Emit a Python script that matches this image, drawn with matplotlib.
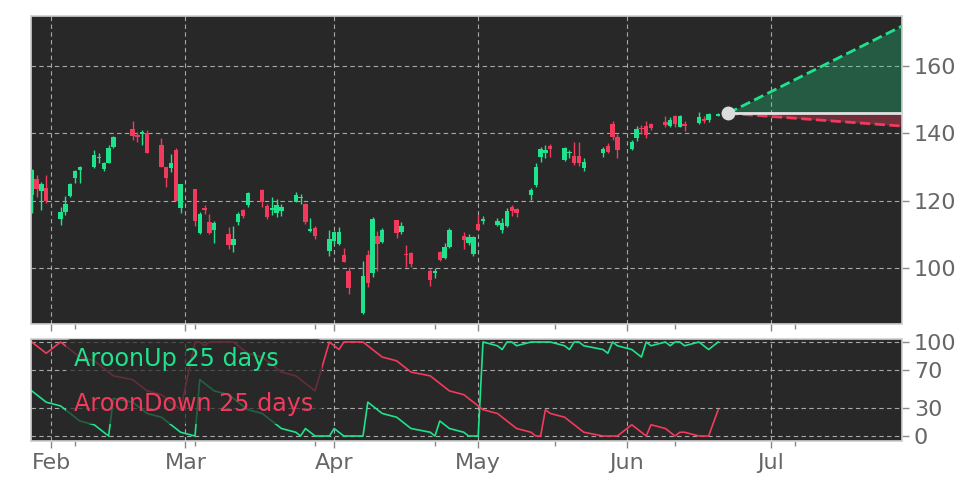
import matplotlib
matplotlib.use("Agg")
import matplotlib.pyplot as plt
import matplotlib.dates as mdates
import matplotlib.ticker as mticker
import numpy as np
import pandas as pd

# ---------------- data ----------------
dates = [
    "2025-01-28", "2025-01-29", "2025-01-30", "2025-01-31",
    "2025-02-03", "2025-02-04", "2025-02-05", "2025-02-06", "2025-02-07",
    "2025-02-10", "2025-02-11", "2025-02-12", "2025-02-13", "2025-02-14",
    "2025-02-18", "2025-02-19", "2025-02-20", "2025-02-21",
    "2025-02-24", "2025-02-25", "2025-02-26", "2025-02-27", "2025-02-28",
    "2025-03-03", "2025-03-04", "2025-03-05", "2025-03-06", "2025-03-07",
    "2025-03-10", "2025-03-11", "2025-03-12", "2025-03-13", "2025-03-14",
    "2025-03-17", "2025-03-18", "2025-03-19", "2025-03-20", "2025-03-21",
    "2025-03-24", "2025-03-25", "2025-03-26", "2025-03-27", "2025-03-28",
    "2025-03-31", "2025-04-01", "2025-04-02", "2025-04-03", "2025-04-04",
    "2025-04-07", "2025-04-08", "2025-04-09", "2025-04-10", "2025-04-11",
    "2025-04-14", "2025-04-15", "2025-04-16", "2025-04-17",
    "2025-04-21", "2025-04-22", "2025-04-23", "2025-04-24", "2025-04-25",
    "2025-04-28", "2025-04-29", "2025-04-30", "2025-05-01", "2025-05-02",
    "2025-05-05", "2025-05-06", "2025-05-07", "2025-05-08", "2025-05-09",
    "2025-05-12", "2025-05-13", "2025-05-14", "2025-05-15", "2025-05-16",
    "2025-05-19", "2025-05-20", "2025-05-21", "2025-05-22", "2025-05-23",
    "2025-05-27", "2025-05-28", "2025-05-29", "2025-05-30",
    "2025-06-02", "2025-06-03", "2025-06-04", "2025-06-05", "2025-06-06",
    "2025-06-09", "2025-06-10", "2025-06-11", "2025-06-12", "2025-06-13",
    "2025-06-16", "2025-06-17", "2025-06-18", "2025-06-20",
]

opens = [
    121.8, 126.5, 123.0, 123.9,
    114.7, 116.6, 121.3, 126.9, 129.2,
    129.9, 132.6, 129.5, 131.1, 136.1,
    141.3, 139.5, 139.7, 140.0,
    136.6, 130.1, 129.7, 135.1, 118.0,
    123.5, 110.4, 118.0, 113.8, 111.4,
    110.1, 106.8, 113.8, 117.2, 118.7,
    123.2, 118.5, 117.2, 116.5, 116.9,
    119.7, 120.7, 119.0, 111.0, 111.8,
    105.1, 108.1, 107.1, 103.9, 99.2,
    86.8, 104.0, 98.5, 109.4, 107.9,
    114.3, 110.7, 104.2, 104.5,
    99.0, 98.5, 104.7, 103.0, 106.4,
    109.6, 107.4, 104.3, 113.1, 114.1,
    112.7, 111.4, 112.6, 118.3, 117.5,
    121.7, 124.7, 132.9, 134.3, 136.3,
    132.1, 134.1, 133.3, 133.3, 129.6,
    134.1, 136.2, 142.7, 139.0,
    135.3, 138.6, 141.5, 142.2, 142.8,
    143.4, 142.2, 145.1, 142.0, 142.8,
    143.2, 144.4, 143.9, 145.2,
]

closes = [
    129.2, 123.5, 124.9, 120.0,
    116.8, 119.0, 125.0, 128.9, 130.1,
    133.6, 133.1, 131.3, 135.6, 139.0,
    139.3, 139.0, 140.3, 134.1,
    130.1, 126.7, 131.1, 120.0, 125.0,
    113.9, 116.2, 117.3, 110.4, 113.3,
    106.8, 108.8, 116.2, 115.5, 122.2,
    119.5, 115.2, 117.8, 118.7, 118.3,
    121.7, 121.2, 113.6, 111.6, 109.4,
    108.6, 110.6, 110.8, 101.7, 94.0,
    97.8, 95.5, 114.6, 107.2, 111.4,
    110.4, 112.4, 103.8, 101.3,
    96.6, 99.0, 102.5, 106.4, 111.4,
    108.4, 109.1, 109.2, 111.4, 114.6,
    113.9, 113.3, 117.1, 117.0, 116.3,
    123.2, 130.1, 135.4, 135.1, 135.3,
    135.7, 134.6, 131.1, 131.1, 131.6,
    135.5, 134.6, 139.0, 135.0,
    137.5, 141.3, 141.3, 139.6, 141.5,
    142.5, 144.1, 142.8, 145.1, 142.3,
    144.9, 143.7, 145.7, 145.9,
]

highs = [
    129.5, 127.7, 125.7, 127.7,
    118.3, 121.3, 125.2, 129.2, 130.4,
    135.1, 134.1, 131.6, 136.6, 139.3,
    143.6, 140.5, 141.0, 141.0,
    138.7, 130.1, 133.8, 135.6, 125.0,
    123.5, 116.8, 118.7, 116.0, 114.1,
    112.1, 112.6, 116.8, 117.7, 122.7,
    123.5, 119.0, 121.0, 120.5, 119.1,
    122.5, 122.0, 119.3, 115.0, 112.6,
    111.4, 111.1, 112.1, 105.9, 100.2,
    102.0, 105.3, 115.3, 110.9, 111.9,
    114.3, 113.6, 106.9, 104.7,
    99.7, 100.0, 105.0, 107.4, 111.9,
    110.6, 110.2, 109.4, 115.8, 115.5,
    114.9, 114.9, 117.8, 118.8, 117.8,
    123.7, 131.1, 136.1, 136.6, 136.8,
    136.0, 135.1, 137.5, 137.5, 132.6,
    136.0, 137.2, 143.8, 139.8,
    138.2, 142.2, 142.5, 143.8, 143.1,
    145.1, 144.9, 145.4, 145.4, 143.7,
    146.4, 145.1, 146.1, 146.0,
]

lows = [
    116.4, 121.2, 117.3, 119.3,
    112.9, 115.9, 121.0, 125.2, 125.2,
    129.7, 131.1, 128.9, 131.1, 135.6,
    138.0, 137.5, 136.6, 134.1,
    130.1, 124.2, 128.7, 119.8, 116.4,
    112.4, 110.0, 116.0, 110.1, 107.6,
    105.6, 104.9, 112.8, 115.0, 118.3,
    118.3, 114.7, 115.7, 115.3, 115.5,
    119.5, 119.0, 113.1, 110.8, 108.8,
    103.7, 107.1, 106.8, 101.7, 92.3,
    86.5, 94.3, 97.5, 99.0, 107.4,
    108.9, 110.2, 100.3, 100.3,
    94.8, 97.0, 102.0, 102.7, 105.9,
    105.6, 106.9, 103.7, 111.4, 113.1,
    112.4, 110.4, 112.2, 115.5, 115.1,
    120.1, 124.2, 131.6, 132.6, 133.0,
    131.9, 132.6, 130.6, 130.3, 128.9,
    132.9, 134.2, 138.0, 132.6,
    135.0, 137.8, 139.8, 138.8, 141.0,
    142.0, 141.8, 142.0, 141.8, 140.8,
    142.8, 143.2, 143.5, 145.1,
]

aroon_up = [
    48, 44, 40, 36,
    32, 28, 24, 20, 16,
    12, 8, 4, 0, 40,
    36, 32, 28, 24,
    20, 16, 12, 8, 4,
    0, 60, 56, 52, 48,
    44, 40, 36, 32, 28,
    24, 20, 16, 12, 8,
    4, 0, 8, 4, 0,
    0, 8, 4, 0, 0,
    0, 36, 32, 28, 24,
    20, 16, 12, 8,
    4, 0, 16, 12, 8,
    4, 0, 0, 0, 100,
    96, 92, 100, 100, 96,
    100, 100, 100, 100, 100,
    96, 92, 100, 100, 96,
    92, 88, 100, 96,
    92, 88, 84, 100, 96,
    100, 96, 100, 100, 96,
    100, 96, 92, 100,
]

aroon_down = [
    100, 96, 92, 88,
    100, 96, 92, 88, 84,
    80, 76, 72, 68, 64,
    60, 56, 52, 48,
    44, 40, 36, 32, 28,
    100, 100, 96, 100, 100,
    100, 100, 96, 92, 88,
    84, 80, 76, 72, 68,
    64, 60, 56, 52, 48,
    100, 96, 92, 100, 100,
    100, 96, 92, 88, 84,
    80, 76, 72, 68,
    64, 60, 56, 52, 48,
    44, 40, 36, 32, 28,
    24, 20, 16, 12, 8,
    4, 0, 0, 28, 24,
    20, 16, 12, 8, 4,
    0, 0, 0, 0,
    12, 8, 4, 0, 12,
    8, 4, 0, 4, 4,
    0, 0, 0, 28,
]

forecast_dates = ["2025-06-22 00:00", "2025-07-28 07:00"]
forecast_base = [146.0, 146.0]
forecast_high = [146.0, 171.9]
forecast_low = [146.0, 142.2]

x_range = ["2025-01-27 20:00", "2025-07-28 07:00"]
minor_tick_dates = ["2025-02-06", "2025-03-03", "2025-03-28", "2025-04-22",
                    "2025-05-17", "2025-06-11", "2025-07-06"]
price_ticks = [100, 120, 140, 160]
aroon_ticks = [0, 30, 70, 100]
legend_labels = ["AroonUp 25 days", "AroonDown 25 days"]

# ---------------- style ----------------
GREEN = "#1ee38c"
RED = "#f23a5c"
BG = "#282828"
GRID = "#a8a8a8"
TXT = "#666666"
SPINE = "#d0d0d0"

fig = plt.figure(figsize=(9.72, 4.86), dpi=100)
ax = fig.add_axes([31 / 972, 1 - 324 / 486, 871 / 972, 308 / 486])
ax2 = fig.add_axes([31 / 972, 1 - 441 / 486, 871 / 972, 102 / 486], sharex=ax)

d = pd.to_datetime(dates, format="%Y-%m-%d")
o = np.array(opens)
c = np.array(closes)
h = np.array(highs)
l = np.array(lows)
col = np.where(c >= o, GREEN, RED)

# candles
ax.vlines(d, l, h, colors=col, linewidth=1.0, zorder=3)
body_bottom = np.minimum(o, c)
body_h = np.maximum(np.abs(c - o), 0.4)
ax.bar(d, body_h, bottom=body_bottom, width=0.95, color=col, linewidth=0, zorder=4)

# forecast cone
fd = pd.to_datetime(forecast_dates, format="%Y-%m-%d %H:%M")
ax.fill_between(fd, forecast_base, forecast_high, color=GREEN, alpha=0.27, linewidth=0, zorder=2)
ax.fill_between(fd, forecast_base, forecast_low, color=RED, alpha=0.35, linewidth=0, zorder=2)
ax.plot(fd, forecast_high, linestyle="--", color=GREEN, linewidth=2, zorder=5)
ax.plot(fd, forecast_low, linestyle="--", color=RED, linewidth=2, zorder=5)
ax.plot(fd, forecast_base, color="#e2e2e2", linewidth=2, zorder=5)
ax.plot(fd[:1], forecast_base[:1], "o", color="#dcdcdc", markersize=9, zorder=6)

# aroon
l1, = ax2.plot(d, aroon_up, color=GREEN, linewidth=1.2)
l2, = ax2.plot(d, aroon_down, color=RED, linewidth=1.2)
leg = ax2.legend([l1, l2], legend_labels, loc="upper left", bbox_to_anchor=(0.04, 1.0),
                 borderaxespad=0, handlelength=0, handletextpad=0, labelcolor="linecolor",
                 fontsize=17.2, frameon=True, facecolor=BG, edgecolor="none", framealpha=0.7,
                 labelspacing=0.85, borderpad=0.35)
for hnd in leg.legend_handles:
    hnd.set_visible(False)

# axes styling
xr = pd.to_datetime(x_range, format="%Y-%m-%d %H:%M")
ax.set_xlim(xr[0], xr[1])
ax.set_ylim(83.4, 174.9)
ax2.set_ylim(-5.3, 103.2)
ax.set_yticks(price_ticks)
ax2.set_yticks(aroon_ticks)

minor_locs = mdates.date2num(pd.to_datetime(minor_tick_dates, format="%Y-%m-%d"))
for a in (ax, ax2):
    a.set_facecolor(BG)
    for s in a.spines.values():
        s.set_color(SPINE)
        s.set_linewidth(1.2)
    a.yaxis.tick_right()
    a.xaxis.set_major_locator(mdates.MonthLocator())
    a.xaxis.set_major_formatter(mdates.DateFormatter("%b"))
    a.xaxis.set_minor_locator(mticker.FixedLocator(minor_locs))
    a.grid(True, which="major", linestyle=(0, (4, 3)), color=GRID, linewidth=0.8)
    a.tick_params(axis="both", which="major", colors="#888888", labelcolor=TXT,
                  labelsize=16, length=5, width=1)
    a.tick_params(axis="x", which="minor", colors="#888888", length=3.5, width=1)
    a.set_axisbelow(True)

ax.tick_params(axis="x", which="both", labelbottom=False)

fig.savefig("out.png", dpi=100, facecolor="white")
